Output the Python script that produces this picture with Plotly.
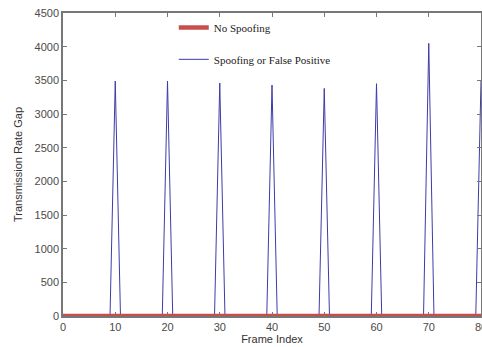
import plotly.graph_objects as go

# Frame indices 0..80
frames = list(range(0, 81))
spike_frames = [10, 20, 30, 40, 50, 60, 70, 80]
spike_values = [3490, 3490, 3460, 3430, 3380, 3450, 4050, 3500]

no_spoof = [0] * len(frames)
spoof = [0] * len(frames)
for f, v in zip(spike_frames, spike_values):
    spoof[frames.index(f)] = v

x_ticks = [0, 10, 20, 30, 40, 50, 60, 70, 80]
y_ticks = [0, 500, 1000, 1500, 2000, 2500, 3000, 3500, 4000, 4500]

fig = go.Figure()
fig.add_trace(go.Scatter(
    x=frames, y=spoof, mode="lines", name="Spoofing or False Positive",
    line=dict(color="#3c3ca8", width=1), legend="legend2"))
fig.add_trace(go.Scatter(
    x=frames, y=no_spoof, mode="lines", name="No Spoofing",
    line=dict(color="#c84e4e", width=4.5), legend="legend"))

axis_common = dict(
    showgrid=False, zeroline=False, showline=True, linecolor="#777777",
    linewidth=1.5, mirror="allticks", ticks="inside", ticklen=4,
    tickcolor="#777777", ticklabeloverflow="allow", automargin=False,
    tickfont=dict(family="Liberation Sans, Arial", size=11, color="#4a4a4a"),
)

legend_font = dict(family="Liberation Serif, Times New Roman", size=11, color="#222222")

fig.update_layout(
    width=482, height=347,
    margin=dict(l=63, r=1, t=13, b=31, autoexpand=False),
    paper_bgcolor="white", plot_bgcolor="white",
    xaxis=dict(range=[0, 80], tickvals=x_ticks,
               title=dict(text="Frame Index", font=dict(family="Liberation Sans, Arial", size=11, color="#333333"), standoff=2),
               **axis_common),
    yaxis=dict(range=[0, 4500], tickvals=y_ticks,
               title=dict(text="Transmission Rate Gap", font=dict(family="Liberation Sans, Arial", size=11, color="#333333"), standoff=10),
               **axis_common),
    legend=dict(x=0.265, y=1.0, xanchor="left", yanchor="top", bgcolor="rgba(0,0,0,0)",
                font=legend_font, itemwidth=30),
    legend2=dict(x=0.265, y=0.895, xanchor="left", yanchor="top", bgcolor="rgba(0,0,0,0)",
                 font=legend_font, itemwidth=30),
    showlegend=True,
)

fig.write_html("out.html")
